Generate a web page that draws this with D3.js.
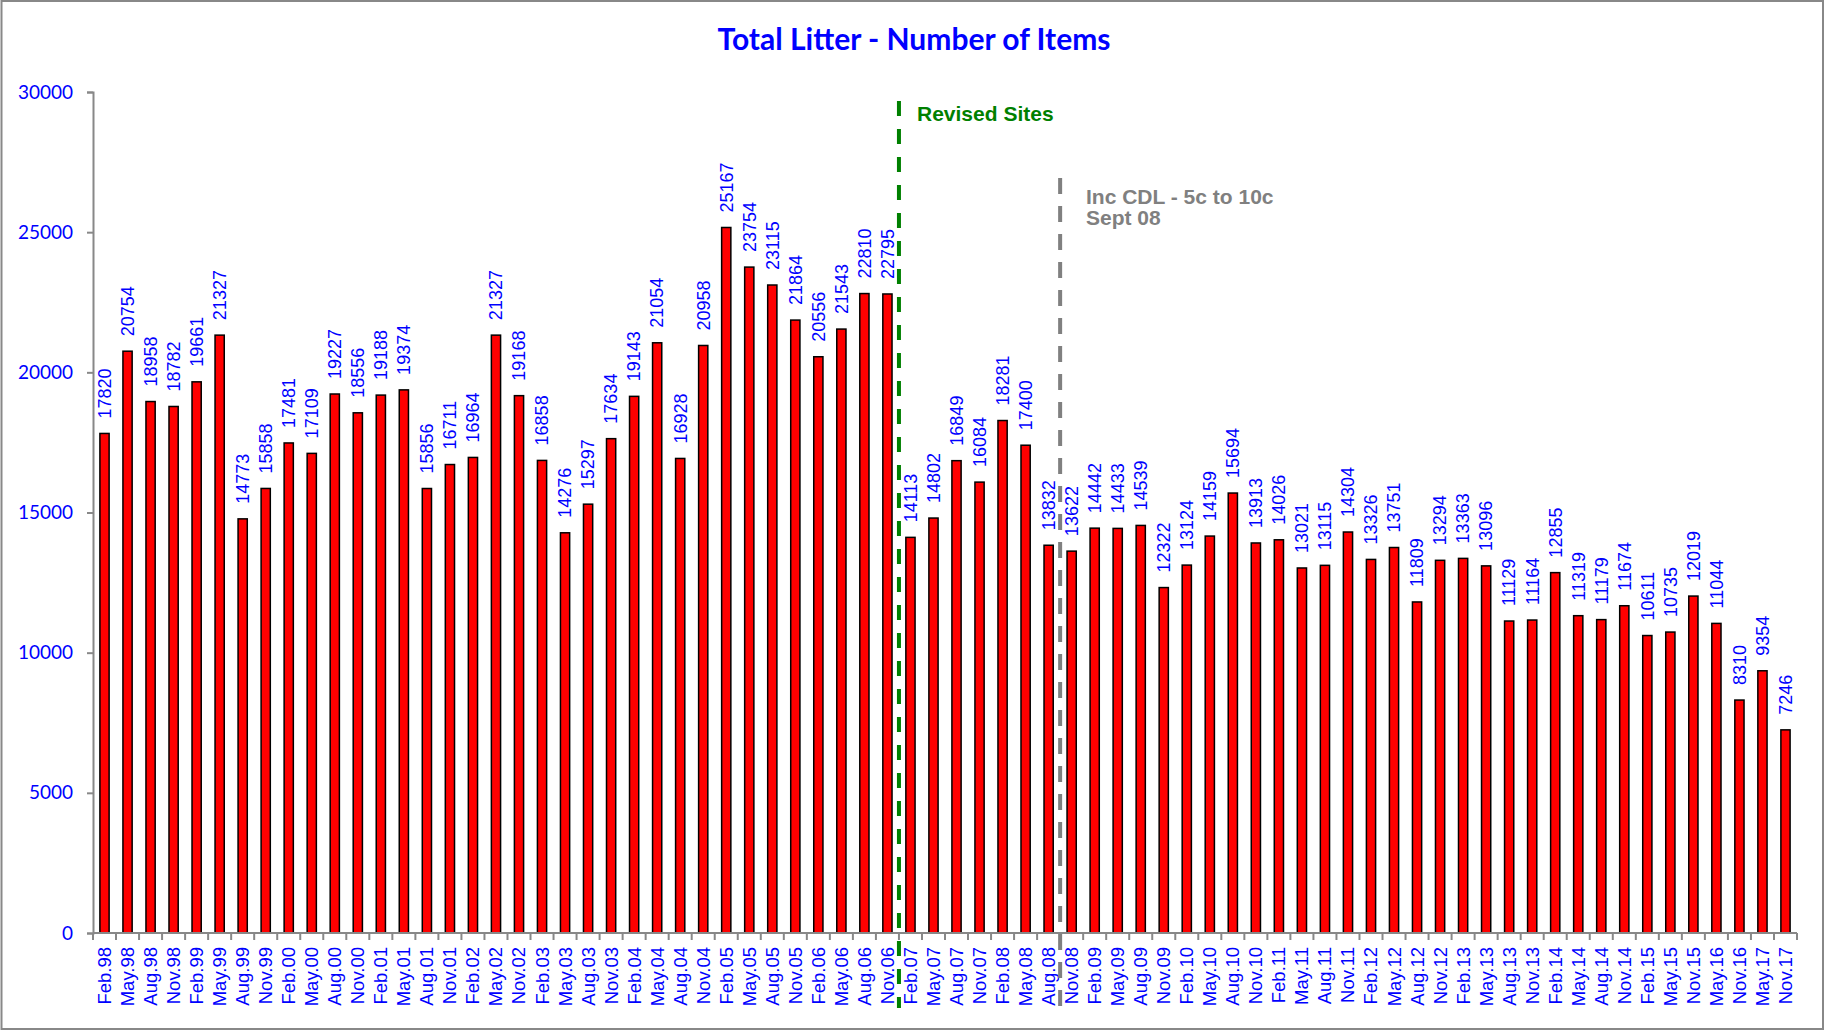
<!DOCTYPE html>
<html>
<head>
<meta charset="utf-8">
<script src="https://cdn.jsdelivr.net/npm/d3@7"></script>
<style>
body { margin: 0; background: #fff; }
</style>
</head>
<body>
<script>
var w = 1825;
var h = 1031;

var categories = [
    "Feb.98","May.98","Aug.98","Nov.98","Feb.99","May.99","Aug.99","Nov.99",
    "Feb.00","May.00","Aug.00","Nov.00","Feb.01","May.01","Aug.01","Nov.01",
    "Feb.02","May.02","Nov.02","Feb.03","May.03","Aug.03","Nov.03",
    "Feb.04","May.04","Aug.04","Nov.04","Feb.05","May.05","Aug.05","Nov.05",
    "Feb.06","May.06","Aug.06","Nov.06","Feb.07","May.07","Aug.07","Nov.07",
    "Feb.08","May.08","Aug.08","Nov.08","Feb.09","May.09","Aug.09","Nov.09",
    "Feb.10","May.10","Aug.10","Nov.10","Feb.11","May.11","Aug.11","Nov.11",
    "Feb.12","May.12","Aug.12","Nov.12","Feb.13","May.13","Aug.13","Nov.13",
    "Feb.14","May.14","Aug.14","Nov.14","Feb.15","May.15","Nov.15",
    "May.16","Nov.16","May.17","Nov.17"
    ];

var values = [
    17820,20754,18958,18782,19661,21327,14773,15858,
    17481,17109,19227,18556,19188,19374,15856,16711,
    16964,21327,19168,16858,14276,15297,17634,
    19143,21054,16928,20958,25167,23754,23115,21864,
    20556,21543,22810,22795,14113,14802,16849,16084,
    18281,17400,13832,13622,14442,14433,14539,12322,
    13124,14159,15694,13913,14026,13021,13115,14304,
    13326,13751,11809,13294,13363,13096,11129,11164,
    12855,11319,11179,11674,10611,10735,12019,
    11044,8310,9354,7246
    ];

var yTicks = [0,5000,10000,15000,20000,25000,30000];

// markers drawn as dashed lines before these categories
var revisedAt = "Feb.07";
var cdlAt = "Nov.08";

var plotLeft = 93, plotRight = 1797, plotTop = 92, plotBottom = 933;
var arial = "'Liberation Sans', Arial, sans-serif";

var svg = d3.select("body")
            .append("svg")
            .attr("width", w)
            .attr("height", h)
            .style("font-family", "Lato, sans-serif");

// outer frame
svg.append("rect")
    .attr("x", 1.5).attr("y", 1)
    .attr("width", w - 3.5).attr("height", h - 3)
    .attr("fill", "#fff")
    .attr("stroke", "#888")
    .attr("stroke-width", 2);

var xScale = d3.scaleBand()
                .domain(categories)
                .range([plotLeft, plotRight])
                .paddingInner(0.6)
                .paddingOuter(0.3);

var yScale = d3.scaleLinear()
                .domain([0, 30000])
                .range([plotBottom, plotTop]);

function boundary(i) {
    return plotLeft + i * xScale.step();
}

// title
svg.append("text")
    .attr("x", 914)
    .attr("y", 50)
    .attr("text-anchor", "middle")
    .attr("fill", "#0000ff")
    .style("font-weight", "bold")
    .style("font-size", "30px")
    .text("Total Litter - Number of Items");

// y axis
var yAxis = svg.append("g")
    .attr("transform", "translate(" + plotLeft + ",0)")
    .call(d3.axisLeft(yScale).tickValues(yTicks).tickSize(6).tickPadding(14).tickFormat(d3.format("d")));
yAxis.select(".domain").attr("stroke", "#888").attr("stroke-width", 2);
yAxis.selectAll(".tick line").attr("stroke", "#888").attr("stroke-width", 2);
yAxis.selectAll("text")
    .attr("fill", "#0000ff")
    .style("font-family", "Lato, sans-serif")
    .style("font-size", "19px");

// bars
svg.selectAll("rect.bar")
    .data(values)
    .enter()
    .append("rect")
    .attr("class", "bar")
    .attr("x", function(d, i) { return xScale(categories[i]); })
    .attr("y", function(d) { return yScale(d); })
    .attr("width", xScale.bandwidth())
    .attr("height", function(d) { return plotBottom - yScale(d); })
    .attr("fill", "#ff0000")
    .attr("stroke", "#000")
    .attr("stroke-width", 1.5);

// value labels above bars
svg.selectAll("text.val")
    .data(values)
    .enter()
    .append("text")
    .attr("class", "val")
    .attr("transform", function(d, i) {
        var cx = xScale(categories[i]) + xScale.bandwidth() / 2;
        return "translate(" + cx + "," + (yScale(d) - 15) + ") rotate(-90)";
    })
    .attr("dy", "0.35em")
    .attr("fill", "#0000ff")
    .style("font-family", arial)
    .style("font-size", "18px")
    .text(function(d) { return d; });

// x axis: labels at centres, ticks at boundaries
var xAxis = svg.append("g")
    .attr("transform", "translate(0," + plotBottom + ")")
    .call(d3.axisBottom(xScale).tickSize(0).tickSizeOuter(0));
xAxis.select(".domain").remove();
xAxis.selectAll("text")
    .attr("transform", "rotate(-90)")
    .attr("x", -14)
    .attr("y", 0)
    .attr("dy", "0.35em")
    .style("text-anchor", "end")
    .attr("fill", "#0000ff")
    .style("font-family", arial)
    .style("font-size", "18.5px");

svg.append("line")
    .attr("x1", plotLeft).attr("x2", plotRight)
    .attr("y1", plotBottom).attr("y2", plotBottom)
    .attr("stroke", "#888").attr("stroke-width", 2);

svg.selectAll("line.xtick")
    .data(d3.range(categories.length + 1))
    .enter()
    .append("line")
    .attr("class", "xtick")
    .attr("x1", function(i) { return boundary(i); })
    .attr("x2", function(i) { return boundary(i); })
    .attr("y1", plotBottom)
    .attr("y2", plotBottom + 7)
    .attr("stroke", "#888")
    .attr("stroke-width", 2);

// Revised Sites marker
var gx = boundary(categories.indexOf(revisedAt));
svg.append("line")
    .attr("x1", gx).attr("x2", gx)
    .attr("y1", 101).attr("y2", 1008)
    .attr("stroke", "#008000")
    .attr("stroke-width", 4)
    .attr("stroke-dasharray", "15,13");
svg.append("text")
    .attr("x", 917).attr("y", 121)
    .attr("fill", "#008000")
    .style("font-family", arial)
    .style("font-weight", "bold")
    .style("font-size", "21px")
    .text("Revised Sites");

// CDL marker
var cx = boundary(categories.indexOf(cdlAt));
svg.append("line")
    .attr("x1", cx).attr("x2", cx)
    .attr("y1", 178).attr("y2", 1008)
    .attr("stroke", "#808080")
    .attr("stroke-width", 4)
    .attr("stroke-dasharray", "16,12");
svg.append("text")
    .attr("x", 1086).attr("y", 204)
    .attr("fill", "#808080")
    .style("font-family", arial)
    .style("font-weight", "bold")
    .style("font-size", "21px")
    .text("Inc CDL - 5c to 10c");
svg.append("text")
    .attr("x", 1086).attr("y", 225)
    .attr("fill", "#808080")
    .style("font-family", arial)
    .style("font-weight", "bold")
    .style("font-size", "21px")
    .text("Sept 08");
</script>
</body>
</html>
